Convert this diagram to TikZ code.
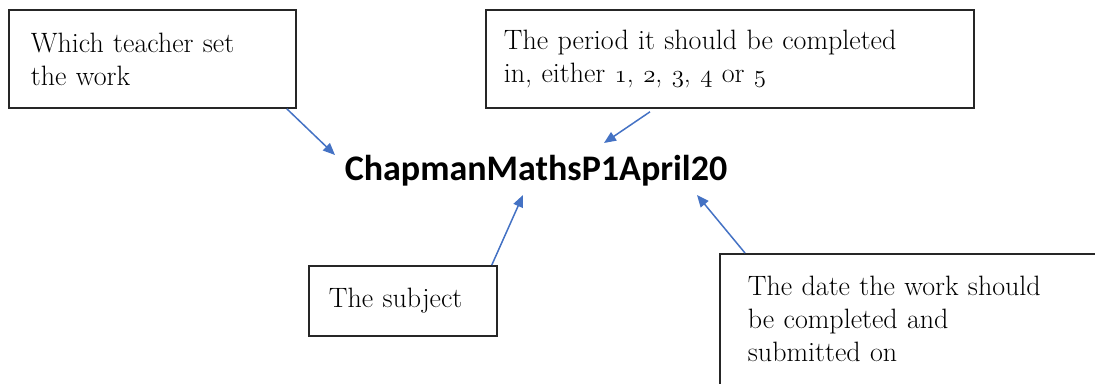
\documentclass[tikz,border=0pt]{standalone}
\usepackage{fontspec}
\newfontfamily\codefont{Carlito}
\usepackage{tikz}
\usetikzlibrary{arrows.meta,positioning}
\definecolor{linkblue}{HTML}{4472C4}
\newcommand{\osn}[1]{$\mathnormal{#1}$}
\tikzset{
  note/.style={draw=black!85, line width=1.8pt, anchor=north west, align=left, inner xsep=20pt, inner ysep=10pt, font=\fontsize{28}{33}\selectfont},
  link/.style={draw=linkblue, line width=1.5pt, -{Triangle[length=12pt,width=10pt]}},
  code/.style={font=\codefont\bfseries\fontsize{36}{40}\selectfont, inner sep=0pt}
}

\begin{document}
\begin{tikzpicture}[x=1pt, y=-1pt]
\clip (0,0) rectangle (1095,383);
\node[code, anchor=base] (name) at (536,180) {ChapmanMathsP1April20};
\node[note, inner xsep=22pt, text width=243pt, minimum width=287pt, minimum height=98pt] (teacher) at (8,9) {Which teacher set\\the work};
\node[note, inner xsep=18pt, text width=452pt, minimum width=488pt, minimum height=98pt] (period) at (485,9) {The period it should be completed\\in, either \osn{1}, \osn{2}, \osn{3}, \osn{4} or \osn{5}};
\node[note, text width=148pt, minimum width=188pt, minimum height=70pt] (subject) at (308,265) {The subject};
% box runs off the page at the bottom right
\node[note, inner xsep=28pt, inner ysep=22pt, text width=364pt, minimum width=420pt] (date) at (719,253) {The date the work should\\be completed and\\submitted on\rule[-40pt]{0pt}{40pt}};
% arrow tips next to the file name
\coordinate (tipA) at (335,155);
\coordinate (tipB) at (604,143);
\coordinate (tipC) at (523,195);
\coordinate (tipD) at (697,195);
\draw[link] ([xshift=-10pt]teacher.south east) -- (tipA);
\draw[link] ([xshift=165pt,yshift=-3pt]period.south west) -- (tipB);
\draw[link] ([xshift=-6pt]subject.north east) -- (tipC);
\draw[link] ([xshift=26pt]date.north west) -- (tipD);
\end{tikzpicture}
\end{document}
